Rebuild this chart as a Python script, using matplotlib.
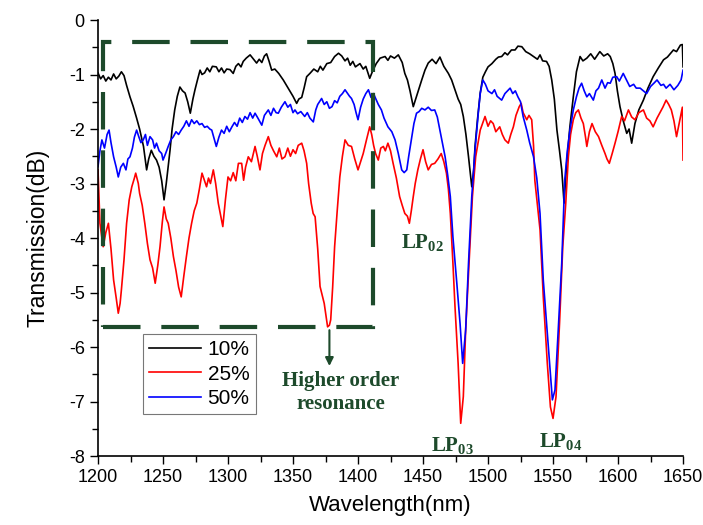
import matplotlib
matplotlib.use("Agg")
import matplotlib.pyplot as plt
from matplotlib.patches import Rectangle

plt.rcParams['font.family'] = ['Liberation Sans', 'DejaVu Sans']
plt.rcParams['axes.unicode_minus'] = False
plt.rcParams['mathtext.fontset'] = 'custom'
plt.rcParams['mathtext.rm'] = 'Liberation Serif:bold'
plt.rcParams['mathtext.bf'] = 'Liberation Serif:bold'
plt.rcParams['mathtext.it'] = 'Liberation Serif:bold'

# 10 % curve (black)
wl_10 = [1200, 1202, 1204, 1206, 1208, 1210, 1212, 1214, 1216, 1218, 1220, 1222, 1224.6, 1227, 1229.7,
         1232, 1235, 1237.4, 1239, 1241, 1243, 1245, 1247, 1249, 1250.8, 1252.5, 1255.4, 1257, 1259, 1261,
         1263, 1265, 1267, 1269, 1271, 1273, 1274.6, 1276.5, 1278.5, 1280, 1282, 1284, 1286, 1288, 1291,
         1293, 1295, 1297, 1299, 1301.5, 1304, 1306, 1308, 1310, 1311.7, 1314, 1317, 1319, 1322, 1324,
         1326, 1328, 1329.7, 1331.5, 1333.6, 1336, 1339, 1342.5, 1345, 1347.7, 1350, 1352.8, 1354.5, 1356.7,
         1358.5, 1360.5, 1363, 1366, 1369, 1371, 1373, 1376, 1379, 1382, 1385, 1387.5, 1390, 1392, 1394,
         1396, 1398, 1401.5, 1404, 1406, 1409, 1411, 1414, 1417, 1420.8, 1423, 1425, 1428, 1431, 1434,
         1436, 1438, 1440, 1442.5, 1445, 1447, 1449, 1451.5, 1454, 1457, 1460, 1463, 1466, 1469.5, 1472,
         1474.6, 1477, 1479, 1481, 1483, 1485, 1487.5, 1489, 1490, 1492, 1494, 1496, 1498, 1500, 1503,
         1506, 1508, 1510.5, 1513, 1515, 1518, 1520.8, 1523, 1526, 1529, 1532, 1535, 1538, 1540, 1542,
         1545, 1547, 1549, 1551, 1553, 1555, 1556.7, 1558.5, 1560.5, 1563, 1565.6, 1568, 1570.8, 1573, 1576,
         1579, 1582, 1586, 1589, 1592, 1594, 1596, 1597.7, 1599.5, 1601.5, 1604, 1606.7, 1608.5, 1610.5, 1612,
         1613, 1616, 1619.5, 1623, 1627, 1631, 1635, 1638, 1642.6, 1645, 1648, 1649.5, 1650]
t_10 = [-0.97, -1.08, -1.02, -1.12, -1.05, -1.10, -0.99, -1.08, -1.03, -0.95, -1.02, -1.20, -1.41, -1.58, -1.80,
        -2.00, -2.32, -2.75, -2.55, -2.39, -2.50, -2.57, -2.70, -2.95, -3.30, -3.00, -2.39, -2.00, -1.65, -1.40,
        -1.23, -1.30, -1.34, -1.50, -1.71, -1.45, -1.28, -1.10, -0.92, -1.00, -0.97, -0.88, -0.95, -0.85, -0.86,
        -0.95, -0.88, -0.97, -0.90, -0.91, -0.98, -0.85, -0.80, -0.86, -0.76, -0.70, -0.64, -0.70, -0.79, -0.72,
        -0.78, -0.66, -0.62, -0.75, -0.92, -0.90, -0.98, -1.10, -1.20, -1.31, -1.40, -1.53, -1.45, -1.42,
        -1.25, -1.04, -0.98, -0.90, -0.95, -0.85, -0.92, -0.80, -0.78, -0.67, -0.61, -0.66, -0.75, -0.70, -0.83,
        -0.76, -0.86, -0.80, -0.90, -0.85, -1.07, -0.95, -0.80, -0.70, -0.67, -0.74, -0.66, -0.70, -0.64, -0.78,
        -0.98, -1.10, -1.30, -1.59, -1.40, -1.25, -1.10, -0.92, -0.79, -0.72, -0.80, -0.68, -0.85, -0.98, -1.10,
        -1.28, -1.45, -1.55, -1.77, -2.10, -2.51, -3.06, -2.75, -2.32, -1.80, -1.34, -1.05, -0.95, -0.86, -0.80,
        -0.72, -0.68, -0.67, -0.60, -0.64, -0.55, -0.55, -0.48, -0.49, -0.58, -0.62, -0.67, -0.72, -0.64, -0.75,
        -0.76, -0.85, -1.10, -1.45, -2.02, -2.40, -2.75, -3.36, -2.63, -1.95, -1.41, -0.95, -0.67, -0.75, -0.70,
        -0.62, -0.72, -0.58, -0.66, -0.62, -0.67, -0.80, -0.98, -1.30, -1.59, -1.85, -2.08, -2.00, -2.26, -2.05,
        -1.90, -1.65, -1.47, -1.25, -1.04, -0.88, -0.73, -0.68, -0.55, -0.58, -0.46, -0.45, -0.86]

# 25 % curve (red)
wl_25 = [1200, 1201.5, 1203, 1204, 1206, 1208, 1210, 1212, 1214, 1215.6, 1217, 1218, 1220, 1222, 1224,
         1226, 1228, 1229, 1231, 1232, 1234, 1236, 1238, 1240, 1242, 1244, 1246, 1247.7, 1249.5, 1250.8,
         1252.5, 1254, 1256, 1258, 1260, 1262, 1264, 1266, 1268, 1270, 1272, 1274, 1276, 1278, 1280,
         1282, 1283.5, 1285, 1286.5, 1288.7, 1290.5, 1292.5, 1294.5, 1296, 1298, 1300, 1302, 1304, 1306, 1308,
         1310.5, 1312, 1313.5, 1315.6, 1318, 1320.8, 1322.5, 1324.6, 1326.5, 1328.5, 1331, 1333, 1335, 1337.5,
         1339.5, 1341.5, 1343.8, 1346, 1348, 1350, 1352, 1354, 1356.7, 1358.5, 1360.5, 1362, 1364, 1365.5,
         1367, 1369, 1370.8, 1373, 1374, 1375.5, 1376.6, 1378, 1379, 1380.5, 1382, 1384, 1386, 1388, 1390,
         1392.5, 1395, 1397.5, 1400, 1402, 1404, 1406.5, 1409, 1410.5, 1412, 1413.5, 1415.6, 1417.5, 1419.5,
         1421, 1423, 1425, 1427, 1429.5, 1432, 1434, 1436, 1438, 1439.5, 1441, 1442.5, 1444, 1446, 1448,
         1450, 1452, 1454, 1456.5, 1459, 1461.5, 1464, 1466, 1468, 1469.5, 1471, 1473, 1474.6, 1477, 1479,
         1481, 1482.8, 1485.4, 1488, 1490.5, 1494, 1497.7, 1500, 1502, 1504, 1506, 1509, 1511, 1513, 1515.6,
         1517.5, 1519.5, 1521.5, 1524, 1525.5, 1527, 1529.8, 1531.5, 1533.6, 1535, 1536, 1538, 1540, 1542.5,
         1545.6, 1548, 1550, 1552.3, 1555, 1557.5, 1559.8, 1561.8, 1563.5, 1565.6, 1567.5, 1569.5, 1571.5,
         1573.3, 1575, 1576, 1578, 1580, 1582.5, 1585, 1587.5, 1590, 1591.5, 1593.3, 1595.5, 1597.7, 1600,
         1602.8, 1605, 1608, 1610.5, 1613, 1616, 1619.5, 1622, 1624.5, 1627, 1630, 1632, 1634.5, 1637, 1639,
         1641, 1643, 1645, 1647, 1648.5, 1649.5, 1650]
t_25 = [-2.75, -3.73, -4.00, -4.16, -3.90, -3.73, -4.20, -4.77, -5.10, -5.38, -5.20, -4.95, -4.40, -3.73, -3.30,
        -3.06, -2.90, -2.81, -3.00, -3.18, -3.40, -3.73, -4.10, -4.40, -4.55, -4.83, -4.50, -4.16, -3.70, -3.43,
        -3.65, -3.73, -4.00, -4.34, -4.60, -4.90, -5.08, -4.70, -4.34, -4.00, -3.73, -3.50, -3.36, -3.10, -2.81,
        -2.95, -3.06, -2.90, -3.00, -2.75, -3.00, -3.36, -3.60, -3.79, -3.30, -2.88, -2.95, -2.80, -2.95, -2.63,
        -2.63, -2.94, -2.70, -2.51, -2.60, -2.32, -2.50, -2.75, -2.45, -2.30, -2.14, -2.30, -2.40, -2.51,
        -2.35, -2.55, -2.51, -2.35, -2.50, -2.38, -2.45, -2.30, -2.26, -2.40, -2.63, -3.00, -3.36, -3.55,
        -3.61, -4.20, -4.89, -5.10, -5.20, -5.45, -5.63, -5.60, -5.50, -4.90, -4.16, -3.50, -2.88, -2.50, -2.20,
        -2.30, -2.32, -2.55, -2.75, -2.60, -2.45, -2.20, -1.96, -2.10, -2.30, -2.45, -2.57, -2.35, -2.32,
        -2.40, -2.26, -2.40, -2.63, -2.90, -3.24, -3.40, -3.55, -3.60, -3.73, -3.50, -3.24, -3.00, -2.75, -2.55,
        -2.38, -2.60, -2.75, -2.65, -2.63, -2.55, -2.45, -2.60, -2.81, -3.10, -3.55, -4.46, -5.26, -6.30, -7.40,
        -6.91, -5.69, -4.46, -3.24, -2.51, -2.02, -1.77, -1.95, -1.85, -1.90, -2.05, -1.96, -2.10, -2.20, -2.26,
        -2.10, -1.96, -1.75, -1.59, -1.53, -1.70, -1.83, -1.75, -1.83, -2.30, -2.94, -3.40, -3.85, -5.08,
        -6.30, -7.10, -7.31, -6.91, -5.57, -4.16, -3.36, -2.51, -2.10, -1.83, -1.70, -1.65, -1.80,
        -1.90, -2.15, -2.32, -2.05, -1.90, -2.05, -2.14, -2.30, -2.45, -2.55, -2.63, -2.45, -2.26, -2.05,
        -1.77, -1.85, -1.65, -1.78, -1.83, -1.70, -1.65, -1.80, -1.85, -1.96, -1.80, -1.71, -1.60, -1.47, -1.55,
        -1.65, -1.85, -2.14, -1.90, -1.71, -1.60, -2.57]

# 50 % curve (blue)
wl_50 = [1200, 1201.5, 1203, 1205, 1207, 1208.5, 1210, 1212, 1214, 1215.6, 1217.5, 1219.5, 1221.5, 1223,
         1224.6, 1226.5, 1228, 1229.7, 1231.5, 1233, 1234.8, 1236.5, 1238, 1240, 1242, 1243.5, 1245, 1247,
         1249, 1250, 1252, 1254, 1256, 1258, 1260, 1262, 1264, 1266, 1268, 1270, 1272, 1274, 1276, 1278,
         1280, 1282, 1284, 1286, 1287.5, 1289, 1291, 1293, 1295, 1297, 1299, 1301, 1303, 1305, 1307, 1309,
         1311, 1313, 1315, 1317, 1319, 1320.8, 1323, 1326, 1328, 1331, 1333, 1335, 1337, 1338.7, 1341,
         1343.8, 1346, 1348, 1350, 1351.5, 1353.5, 1356, 1359, 1361, 1363, 1365.6, 1367.5, 1369, 1372, 1374,
         1376, 1378, 1380, 1382, 1384, 1386, 1388, 1390, 1392, 1393.5, 1395, 1397, 1398.5, 1400, 1402, 1404,
         1406, 1408, 1410, 1412, 1413, 1415.6, 1418, 1420, 1423, 1426, 1428.5, 1431, 1433.6, 1435.5, 1437.5,
         1439, 1441, 1443, 1445, 1447, 1449, 1451.5, 1454, 1456.5, 1459, 1461, 1463, 1465, 1467, 1469, 1471,
         1473, 1476, 1478.5, 1480.5, 1482.8, 1485, 1487.5, 1490, 1492.5, 1494, 1496, 1498, 1500, 1503, 1505,
         1507, 1510.5, 1513, 1515, 1517, 1519, 1521, 1523, 1525, 1527, 1529.8, 1532, 1535, 1537.5, 1540,
         1542.5, 1546.4, 1549.5, 1551.5, 1554, 1556.7, 1559, 1561, 1563, 1565.6, 1568, 1570, 1572, 1574, 1576,
         1578, 1581, 1583, 1585, 1587.5, 1590, 1592, 1594, 1596, 1599, 1601, 1604, 1606.5, 1609, 1612, 1614,
         1617, 1619.5, 1622, 1625, 1628, 1630, 1633, 1635, 1637, 1640, 1643, 1646, 1648.5, 1649.5, 1650]
t_50 = [-2.69, -2.40, -2.20, -2.35, -2.10, -2.02, -2.25, -2.51, -2.70, -2.88, -2.70, -2.63, -2.75, -2.55,
        -2.51, -2.35, -2.15, -2.02, -2.15, -2.25, -2.20, -2.10, -2.30, -2.14, -2.20, -2.35, -2.26, -2.40,
        -2.45, -2.57, -2.45, -2.32, -2.20, -2.14, -2.05, -2.10, -2.02, -1.95, -1.85, -1.95, -1.83, -1.90, -1.85, -1.92,
        -1.90, -1.97, -1.95, -2.00, -2.02, -2.15, -2.32, -2.15, -2.02, -2.08, -1.95, -2.05, -1.96, -1.88, -1.95, -1.80,
        -1.88, -1.77, -1.82, -1.70, -1.80, -1.71, -1.80, -1.93, -1.75, -1.65, -1.75, -1.62, -1.70, -1.71, -1.60,
        -1.50, -1.60, -1.55, -1.70, -1.65, -1.72, -1.68, -1.77, -1.70, -1.80, -1.87, -1.65, -1.55, -1.44, -1.55,
        -1.50, -1.62, -1.59, -1.48, -1.52, -1.40, -1.35, -1.28, -1.35, -1.40, -1.44, -1.55, -1.70, -1.83, -1.60, -1.45,
        -1.35, -1.28, -1.42, -1.35, -1.41, -1.55, -1.65, -1.80, -1.96, -2.05, -2.20, -2.45, -2.75, -2.80, -2.75,
        -2.50, -2.20, -1.90, -1.71, -1.68, -1.62, -1.65, -1.60, -1.66, -1.65, -1.78, -2.02, -2.25, -2.51, -2.85, -3.24,
        -3.98, -4.83, -5.57, -6.30, -5.69, -4.46, -3.24, -2.39, -1.71, -1.35, -1.10, -1.18, -1.30, -1.35, -1.28,
        -1.40, -1.47, -1.35, -1.30, -1.25, -1.35, -1.30, -1.41, -1.50, -1.77, -2.02, -2.25, -2.51, -2.90, -3.55,
        -4.77, -6.00, -6.97, -6.79, -5.69, -4.46, -2.94, -2.40, -2.02, -1.65, -1.41, -1.25, -1.16, -1.30, -1.41,
        -1.35, -1.47, -1.30, -1.25, -1.10, -1.25, -1.15, -1.16, -1.05, -1.04, -1.12, -0.98, -1.10, -1.22, -1.18, -1.25,
        -1.25, -1.30, -1.35, -1.22, -1.15, -1.10, -1.20, -1.18, -1.25, -1.18, -1.28, -1.20, -1.10, -0.98, -0.92]

labels = ['10%', '25%', '50%']
colors = ['black', '#ff0000', '#0000ff']
green = '#1d4a2b'

fig = plt.figure(figsize=(7.03, 5.25), dpi=100)
ax = fig.add_axes([0.1394, 0.1314, 0.8322, 0.8305])

for wl, t, lab, c in zip([wl_10, wl_25, wl_50], [t_10, t_25, t_50], labels, colors):
    ax.plot(wl, t, color=c, lw=1.2, label=lab)

ax.set_xlim(1200, 1650)
ax.set_ylim(-8, 0)
ax.set_xticks(range(1200, 1651, 50))
ax.set_xticks(range(1225, 1650, 50), minor=True)
ax.set_yticks(range(-8, 1))
ax.set_yticks([-7.5, -6.5, -5.5, -4.5, -3.5, -2.5, -1.5, -0.5], minor=True)
ax.tick_params(which='both', direction='out', labelsize=13, width=1)
ax.tick_params(which='major', length=6)
ax.tick_params(which='minor', length=4)
for s in ['top', 'right']:
    ax.spines[s].set_visible(False)
ax.spines['left'].set_linewidth(1.2)
ax.spines['bottom'].set_linewidth(1.2)

ax.set_xlabel('Wavelength(nm)', fontsize=16, labelpad=6)
ax.set_ylabel('Transmission(dB)', fontsize=16.5, labelpad=14)

# dashed box around the higher order region
box = Rectangle((1204, -5.64), 1411.8 - 1204, 5.23, fill=False, edgecolor=green,
                lw=3, linestyle=(0, (9, 5)), zorder=5)
ax.add_patch(box)

ax.annotate('', xy=(1378, -6.4), xytext=(1378, -5.64),
            arrowprops=dict(arrowstyle='-|>', color=green, lw=1.5, mutation_scale=12))
ax.text(1387, -6.83, 'Higher order\nresonance', color=green, fontsize=15, fontweight='bold',
        family='Liberation Serif', ha='center', va='center', linespacing=1.2)

lp_style = dict(color=green, fontsize=15, fontweight='bold', family='Liberation Serif',
                ha='center', va='center')
ax.text(1449.6, -4.09, r'LP$_{02}$', **lp_style)
ax.text(1472.7, -7.80, r'LP$_{03}$', **lp_style)
ax.text(1555.8, -7.74, r'LP$_{04}$', **lp_style)

leg = ax.legend(loc='lower left', bbox_to_anchor=(0.077, 0.096), borderaxespad=0, fontsize=15,
                handlelength=2.5, labelspacing=0.25, fancybox=False, framealpha=1,
                edgecolor='#777777', borderpad=0.3, handletextpad=0.3)
leg.get_frame().set_linewidth(0.8)

fig.savefig('out.png', dpi=100)
